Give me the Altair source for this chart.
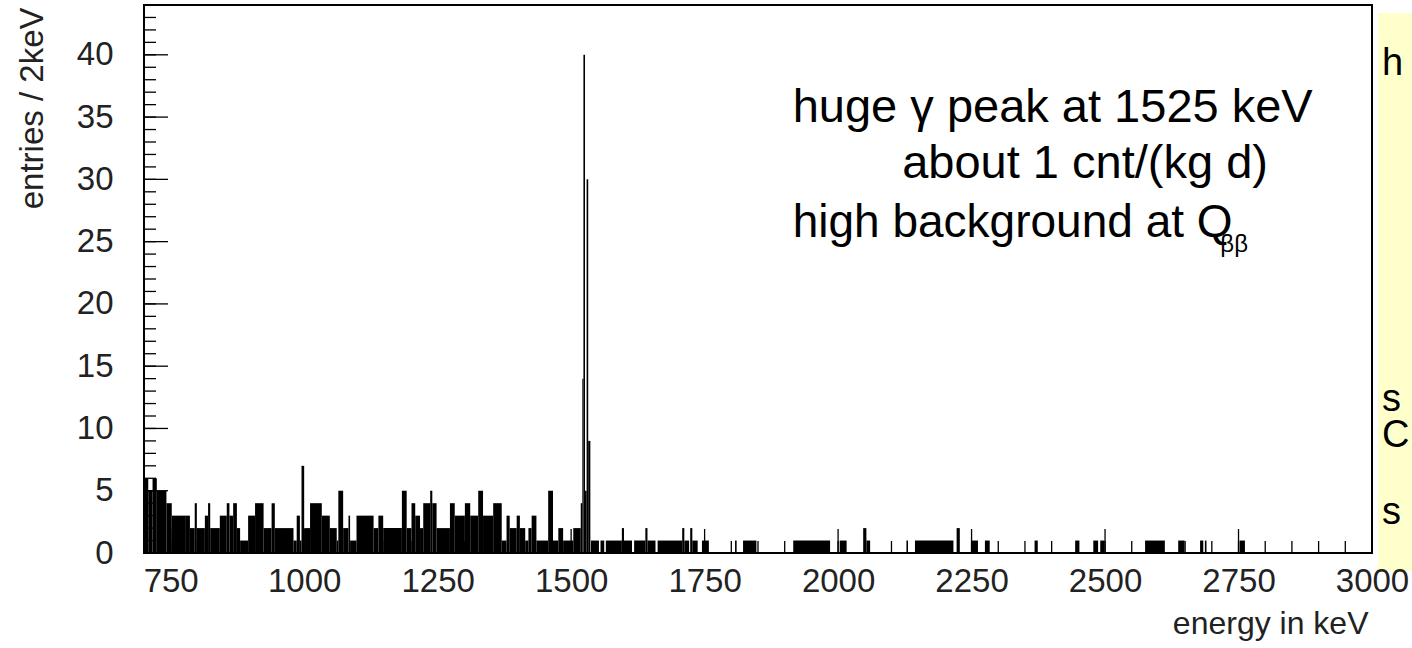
import altair as alt
import pandas as pd

# histogram: segments of equal count (keV start, keV end, entries)
seg_start = [700, 708, 716, 724, 742, 752, 777, 786, 795, 799, 814, 820, 824, 842, 855, 860, 867, 874, 880,
             895, 908, 924, 939, 945, 980, 986, 992, 995, 1000, 1011, 1033, 1048, 1061, 1064, 1073, 1083,
             1086, 1098, 1130, 1139, 1148, 1183, 1192, 1201, 1208, 1217, 1223, 1236, 1240, 1248, 1273,
             1282, 1301, 1311, 1326, 1335, 1354, 1370, 1379, 1385, 1398, 1404, 1414, 1420, 1426, 1435,
             1457, 1466, 1476, 1485, 1504, 1518,
             1521, 1523, 1526, 1529, 1532,
             1537, 1555, 1565, 1595, 1599, 1618, 1639, 1643, 1662, 1708, 1712, 1723, 1727, 1745,
             1807, 1822, 1916, 2003, 2047, 2053, 2128, 2144, 2222, 2250, 2275, 2368, 2444, 2478,
             2491, 2575, 2637, 2678, 2687, 2752]
seg_end = [708, 716, 724, 742, 752, 777, 786, 795, 799, 814, 820, 824, 842, 855, 860, 867, 874, 880, 895,
           908, 924, 939, 945, 980, 986, 992, 995, 1000, 1011, 1033, 1048, 1061, 1064, 1073, 1083, 1086,
           1098, 1130, 1139, 1148, 1183, 1192, 1201, 1208, 1217, 1223, 1236, 1240, 1248, 1273, 1282,
           1301, 1311, 1326, 1335, 1354, 1370, 1379, 1385, 1398, 1404, 1414, 1420, 1426, 1435, 1457,
           1466, 1476, 1485, 1504, 1518, 1521,
           1523, 1526, 1529, 1532, 1536,
           1552, 1562, 1595, 1599, 1614, 1639, 1643, 1658, 1708, 1712, 1721, 1727, 1737, 1758,
           1810, 1847, 1985, 2016, 2053, 2060, 2131, 2216, 2228, 2262, 2284, 2374, 2452, 2487,
           2499, 2612, 2649, 2684, 2690, 2762]
seg_count = [6, 5, 6, 5, 4, 3, 3, 2, 4, 2, 3, 4, 2, 3, 4, 3, 4, 2, 1,
             3, 4, 2, 4, 2, 1, 3, 1, 7, 2, 4, 3, 2, 1, 5, 2, 3,
             1, 3, 2, 3, 2, 5, 2, 4, 3, 2, 4, 5, 4, 2, 4,
             3, 4, 3, 5, 3, 4, 1, 3, 2, 3, 2, 1, 2, 3, 1,
             5, 1, 2, 1, 2, 4,
             14, 40, 5, 30, 9,
             1, 1, 1, 2, 1, 1, 2, 1, 1, 2, 1, 2, 1, 1,
             1, 1, 1, 1, 2, 1, 1, 1, 2, 1, 1, 1, 1, 1,
             1, 1, 1, 1, 1, 1]

x_major = [750, 1000, 1250, 1500, 1750, 2000, 2250, 2500, 2750, 3000]
x_minor = list(range(700, 3001, 50))
y_major = [0, 5, 10, 15, 20, 25, 30, 35, 40]
y_minor = list(range(0, 45))

note_lines = ["huge \u03b3 peak at 1525 keV", "about 1 cnt/(kg d)", "high background at Q"]
side_letters = ["h", "s", "C", "s"]

W, H = 1228, 548
FONT = "Liberation Sans"

df = pd.DataFrame({"start": seg_start, "end": seg_end, "count": seg_count})
df["zero"] = 0

xs = alt.Scale(domain=[700, 3000], nice=False, zero=False)
ys = alt.Scale(domain=[0, 44], nice=False, zero=False)

x_axis = alt.Axis(
    values=x_major, format="d", title="energy in keV", ticks=False, domain=False, grid=False,
    labelFont=FONT, labelFontSize=33, labelColor="#222", labelPadding=12,
    labelFlush=False, labelOverlap=False, zindex=2,
    titleFont=FONT, titleFontSize=32, titleFontWeight="normal", titleColor="#222",
    titleX=1224, titleY=80, titleAlign="right", titleBaseline="alphabetic")
y_axis = alt.Axis(
    values=y_major, format="d", title="entries / 2keV", ticks=False, domain=False, grid=False,
    labelFont=FONT, labelFontSize=33, labelColor="#222", labelPadding=31,
    labelOverlap=False, labelFlush=False, zindex=2,
    titleFont=FONT, titleFontSize=33, titleFontWeight="normal", titleColor="#222",
    titleAngle=270, titleX=-102, titleY=2, titleAlign="right", titleBaseline="alphabetic")

hist = alt.Chart(df).mark_rect(color="black").encode(
    x=alt.X("start:Q", scale=xs, axis=x_axis),
    x2="end:Q",
    y=alt.Y("count:Q", scale=ys, axis=y_axis),
    y2="zero:Q",
)

xmaj = alt.Chart(pd.DataFrame({"v": x_major})).mark_rule(color="black", strokeWidth=1.3).encode(
    x=alt.X("v:Q", scale=xs, axis=x_axis), y=alt.value(H), y2=alt.value(H - 24))
xmin = alt.Chart(pd.DataFrame({"v": x_minor})).mark_rule(color="black", strokeWidth=1.3).encode(
    x=alt.X("v:Q", scale=xs, axis=x_axis), y=alt.value(H), y2=alt.value(H - 12))
ymaj = alt.Chart(pd.DataFrame({"v": y_major})).mark_rule(color="black", strokeWidth=1.3).encode(
    y=alt.Y("v:Q", scale=ys, axis=y_axis), x=alt.value(0), x2=alt.value(24))
ymin = alt.Chart(pd.DataFrame({"v": y_minor})).mark_rule(color="black", strokeWidth=1.3).encode(
    y=alt.Y("v:Q", scale=ys, axis=y_axis), x=alt.value(0), x2=alt.value(12))

def note(txt, xk, yc, size):
    return alt.Chart(pd.DataFrame({"t": [txt]})).mark_text(
        align="left", baseline="alphabetic", font=FONT, fontSize=size, color="black").encode(
        x=alt.X(datum=xk, scale=xs, axis=x_axis), y=alt.Y(datum=yc, scale=ys, axis=y_axis), text="t:N")

n1 = note(note_lines[0], 1915, 34.6, 47)
n2 = note(note_lines[1], 2120, 30.1, 47)
n3 = note(note_lines[2], 1915, 25.4, 46)
n4 = note("\u03b2\u03b2", 2716, 24.2, 24)

side_box = alt.Chart(pd.DataFrame({"t": [""]})).mark_rect(color="#ffffcc", clip=False).encode(
    x=alt.value(1234), x2=alt.value(1300), y=alt.value(8), y2=alt.value(566))

side_y = [70, 406, 442, 519]
side_layers = []
for i, letter in enumerate(side_letters):
    side_layers.append(
        alt.Chart(pd.DataFrame({"t": [letter]})).mark_text(
            align="left", baseline="alphabetic", font=FONT, fontSize=38, color="black", clip=False
        ).encode(x=alt.value(1238), y=alt.value(side_y[i]), text="t:N"))

chart = alt.layer(side_box, hist, xmin, xmaj, ymin, ymaj, n1, n2, n3, n4, *side_layers).properties(
    width=W, height=H,
    autosize=alt.AutoSizeParams(type="none"),
    padding={"left": 144, "top": 5, "right": 40, "bottom": 95},
    background="white",
).configure_view(stroke="black", strokeWidth=2)

chart.save("out.html", embed_options={"renderer": "svg", "actions": False})
